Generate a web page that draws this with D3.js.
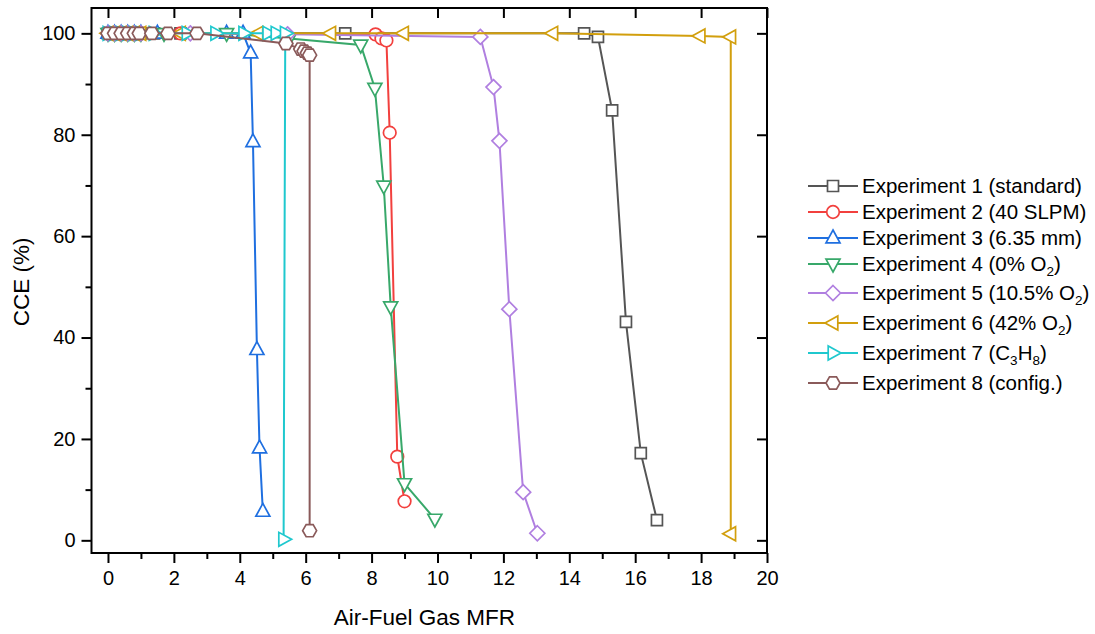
<!DOCTYPE html>
<html>
<head>
<meta charset="utf-8">
<script src="https://cdn.jsdelivr.net/npm/d3@7"></script>
<style>
  body { margin: 0; background: #fff; }
  text { font-family: "Liberation Sans", Arial, sans-serif; }
</style>
</head>
<body>
<svg id="chart" width="1095" height="634"></svg>
<script>
// series data
var names = ["Experiment 1 (standard)", "Experiment 2 (40 SLPM)", "Experiment 3 (6.35 mm)",
  "Experiment 4 (0% O|2|)", "Experiment 5 (10.5% O|2|)", "Experiment 6 (42% O|2|)",
  "Experiment 7 (C|3|H|8|)", "Experiment 8 (config.)"];
var colors = ["#555555", "#F2403E", "#1F6FE0", "#38A86A", "#B07FE0", "#D29F0D", "#1FC8CE", "#8A5A5A"];
var shapes = ["square", "circle", "up", "down", "diamond", "left", "right", "hexagon"];

var x1 = [0, 0.2, 0.4, 0.6, 0.8, 1.0, 1.4, 2.2, 7.2, 14.45, 14.87, 15.3, 15.72, 16.17, 16.66];
var y1 = [100, 100, 100, 100, 100, 100, 100, 100, 100, 100, 99.3, 84.8, 43.1, 17.2, 4.0];
var x2 = [0, 0.2, 0.4, 0.6, 0.8, 1.0, 2.2, 8.12, 8.3, 8.45, 8.55, 8.78, 9.0];
var y2 = [100, 100, 100, 100, 100, 100, 100, 99.8, 99.0, 98.6, 80.4, 16.5, 7.7];
var x3 = [0, 0.2, 0.4, 0.6, 0.8, 1.0, 1.5, 3.6, 4.1, 4.33, 4.4, 4.52, 4.6, 4.7];
var y3 = [100, 100, 100, 100, 100, 100, 100, 100, 100, 96.1, 78.6, 37.6, 18.2, 5.7];
var x4 = [0, 0.2, 0.4, 0.6, 0.8, 1.0, 1.7, 3.6, 5.5, 7.67, 8.1, 8.37, 8.58, 9.0, 9.92];
var y4 = [100, 100, 100, 100, 100, 100, 100, 100, 99.0, 97.7, 89.2, 69.9, 46.1, 11.2, 4.2];
var x5 = [0, 0.2, 0.4, 0.6, 0.8, 1.0, 2.5, 5.45, 11.3, 11.7, 11.88, 12.18, 12.6, 13.03];
var y5 = [100, 100, 100, 100, 100, 100, 100, 99.8, 99.3, 89.4, 78.8, 45.6, 9.5, 1.4];
var x6 = [0, 0.2, 0.4, 0.6, 0.8, 1.0, 2.2, 4.55, 6.76, 8.97, 13.5, 17.97, 18.9, 18.9];
var y6 = [100, 100, 100, 100, 100, 100, 100, 100, 100, 100, 100, 99.5, 99.3, 1.3];
var x7 = [0, 0.2, 0.4, 0.6, 0.8, 1.0, 1.4, 2.4, 3.27, 4.12, 4.85, 5.1, 5.38, 5.33];
var y7 = [100, 100, 100, 100, 100, 100, 100, 100, 100, 100, 100, 100, 100, 0.2];
var x8 = [0, 0.2, 0.4, 0.6, 0.8, 0.95, 1.33, 1.82, 2.7, 5.4, 5.85, 5.95, 6.05, 6.12, 6.12];
var y8 = [100, 100, 100, 100, 100, 100, 100, 100, 100, 98.0, 96.9, 96.5, 96.1, 95.7, 1.9];

var xs = [x1, x2, x3, x4, x5, x6, x7, x8];
var ys = [y1, y2, y3, y4, y5, y6, y7, y8];

var xTicks = [0, 2, 4, 6, 8, 10, 12, 14, 16, 18, 20];
var yTicks = [0, 20, 40, 60, 80, 100];

var svg = d3.select("#chart");
var pLeft = 91.5, pRight = 767, pTop = 8, pBottom = 553;

var x = d3.scaleLinear().domain([-0.5, 20]).range([pLeft, pRight]);
var y = d3.scaleLinear().domain([-2.5, 105]).range([pBottom, pTop]);

// marker paths
function marker(shape) {
  switch (shape) {
    case "square": return "M-5.5,-5.5H5.5V5.5H-5.5Z";
    case "circle": return "M6.3,0A6.3,6.3 0 1,1 -6.3,0A6.3,6.3 0 1,1 6.3,0Z";
    case "up": return "M0,-8L7,4.8L-7,4.8Z";
    case "down": return "M0,8L7,-4.8L-7,-4.8Z";
    case "left": return "M-8,0L4.8,-7L4.8,7Z";
    case "right": return "M8,0L-4.8,-7L-4.8,7Z";
    case "diamond": return "M0,-7.5L7.5,0L0,7.5L-7.5,0Z";
    case "hexagon":
      var p = d3.range(6).map(function(i) {
        var a = i * Math.PI / 3;
        return [7 * Math.cos(a), 7 * Math.sin(a)];
      });
      return "M" + p.join("L") + "Z";
  }
}

var line = d3.line().x(function(d) { return x(d[0]); }).y(function(d) { return y(d[1]); });

var plot = svg.append("g");
xs.forEach(function(xv, i) {
  var pts = xv.map(function(v, j) { return [v, ys[i][j]]; });
  var g = plot.append("g");
  g.append("path")
    .attr("d", line(pts))
    .attr("fill", "none")
    .attr("stroke", colors[i])
    .attr("stroke-width", 2);
  g.selectAll("path.m")
    .data(pts)
    .enter().append("path")
    .attr("class", "m")
    .attr("d", marker(shapes[i]))
    .attr("transform", function(d) { return "translate(" + x(d[0]) + "," + y(d[1]) + ")"; })
    .attr("fill", "white")
    .attr("stroke", colors[i])
    .attr("stroke-width", 1.7);
});

// axes
var minorX = d3.range(1, 20, 2);
var minorY = d3.range(10, 100, 20);

svg.append("g").attr("transform", "translate(0," + pBottom + ")")
  .call(d3.axisBottom(x).tickValues(xTicks).tickSize(10).tickPadding(8).tickFormat(d3.format("d")))
  .call(function(g) { g.select(".domain").remove(); });
svg.append("g").attr("transform", "translate(0," + pBottom + ")")
  .call(d3.axisBottom(x).tickValues(minorX).tickSize(6).tickFormat(""))
  .call(function(g) { g.select(".domain").remove(); });
svg.append("g").attr("transform", "translate(" + pLeft + ",0)")
  .call(d3.axisLeft(y).tickValues(yTicks).tickSize(10).tickPadding(6))
  .call(function(g) { g.select(".domain").remove(); });
svg.append("g").attr("transform", "translate(" + pLeft + ",0)")
  .call(d3.axisLeft(y).tickValues(minorY).tickSize(6).tickFormat(""))
  .call(function(g) { g.select(".domain").remove(); });
svg.append("g").attr("transform", "translate(0," + pTop + ")")
  .call(d3.axisBottom(x).tickValues(xTicks).tickSize(10).tickFormat(""))
  .call(function(g) { g.select(".domain").remove(); });
svg.append("g").attr("transform", "translate(" + pRight + ",0)")
  .call(d3.axisLeft(y).tickValues(yTicks).tickSize(10).tickFormat(""))
  .call(function(g) { g.select(".domain").remove(); });

svg.selectAll(".tick line").attr("stroke", "#000").attr("stroke-width", 2);
svg.selectAll(".tick text").attr("font-size", 20).attr("fill", "#000")
  .style("font-family", "'Liberation Sans', Arial, sans-serif");

svg.append("rect")
  .attr("x", pLeft).attr("y", pTop)
  .attr("width", pRight - pLeft).attr("height", pBottom - pTop)
  .attr("fill", "none").attr("stroke", "#000").attr("stroke-width", 2);

// axis titles
svg.append("text")
  .attr("x", x(9.6)).attr("y", 625)
  .attr("text-anchor", "middle").attr("font-size", 22.5)
  .text("Air-Fuel Gas MFR");
svg.append("text")
  .attr("transform", "translate(29," + y(51) + ") rotate(-90)")
  .attr("text-anchor", "middle").attr("font-size", 22.5)
  .text("CCE (%)");

// legend
var legY = [186, 212, 238, 264, 293, 323, 353, 383];
var leg = svg.append("g");
names.forEach(function(n, i) {
  var row = leg.append("g").attr("transform", "translate(0," + legY[i] + ")");
  row.append("line").attr("x1", 808).attr("x2", 858).attr("y1", 0).attr("y2", 0)
    .attr("stroke", colors[i]).attr("stroke-width", 2);
  row.append("path").attr("d", marker(shapes[i]))
    .attr("transform", "translate(833,0)")
    .attr("fill", "white").attr("stroke", colors[i]).attr("stroke-width", 1.7);
  var t = row.append("text").attr("x", 862).attr("y", 7).attr("font-size", 20.5);
  n.split("|").forEach(function(part, k) {
    if (k % 2 === 1) {
      t.append("tspan").attr("font-size", 13.5).attr("dy", 5).text(part);
    } else {
      t.append("tspan").attr("dy", k > 0 ? -5 : 0).text(part);
    }
  });
});
</script>
</body>
</html>
